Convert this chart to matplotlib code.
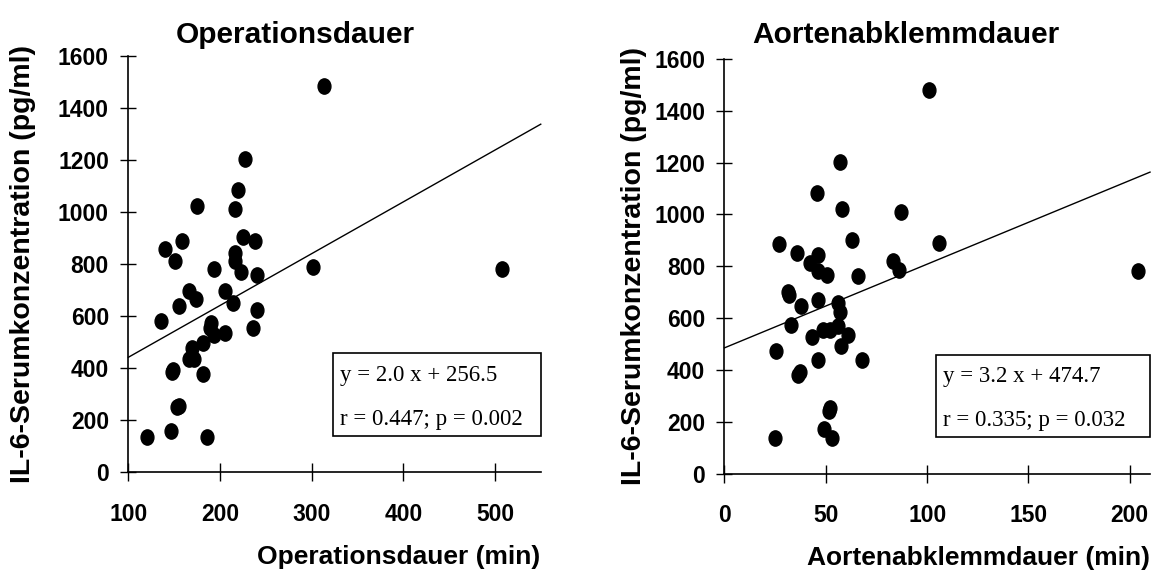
import numpy as np
import matplotlib
matplotlib.use('Agg')
import matplotlib.pyplot as plt
from matplotlib.path import Path
from matplotlib.transforms import Affine2D
from matplotlib.patches import Rectangle

## data: (duration in min, IL-6 in pg/ml)
op_dauer = [314, 227, 220, 175, 216, 159, 140, 225, 238, 216, 151, 216, 194, 302,
            223, 240, 508, 166, 205, 174, 214, 155, 240, 136, 190, 189, 194, 206,
            236, 181, 170, 166, 172, 148, 149, 181, 153, 155, 147, 120, 186]
op_il6 = [1483, 1204, 1086, 1023, 1013, 888, 860, 905, 888, 843, 814, 812, 782, 789,
          770, 759, 780, 697, 697, 667, 650, 641, 625, 582, 575, 554, 529, 536,
          554, 498, 477, 435, 435, 386, 392, 380, 250, 257, 161, 137, 137]

ak_dauer = [101, 57, 45.5, 58, 87, 63, 27, 106, 36, 46, 42, 83, 46, 50.5, 66, 86,
            204, 31.5, 32, 38, 46, 56, 57, 33, 43, 48.5, 52, 56, 61, 57.5, 25.6,
            46, 68, 36.5, 37.5, 52, 51.4, 49, 25, 53]
ak_il6 = [1479, 1201, 1082, 1019, 1010, 900, 884, 891, 852, 843, 813, 822, 782, 765,
          763, 786, 782, 699, 688, 646, 669, 657, 622, 575, 528, 552, 552, 568, 535,
          494, 472, 439, 439, 380, 392, 253, 243, 170, 137, 137]

# trend lines (slope, intercept) as drawn
op_fit = (1.99, 243.5)
ak_fit = (3.23, 485.0)

op_text = ['y = 2.0 x + 256.5', 'r = 0.447; p = 0.002']
ak_text = ['y = 3.2 x + 474.7', 'r = 0.335; p = 0.032']

yticks = [0, 200, 400, 600, 800, 1000, 1200, 1400, 1600]
op_xticks = [100, 200, 300, 400, 500]
ak_xticks = [0, 50, 100, 150, 200]

sans = 'Liberation Sans'
serif = 'Liberation Serif'

# slightly upright ellipse marker
ell = Path.unit_circle().transformed(Affine2D().scale(0.84, 1.0))

fig = plt.figure(figsize=(11.52, 5.72), dpi=100)

def panel(rect, xs, ys, xlim, xticks, fit, txt, title, title_x, xlabel, ylab_x):
    ax = fig.add_axes(rect)
    ax.set_xlim(*xlim)
    ax.set_ylim(0, 1600)
    for s in ['top', 'right']:
        ax.spines[s].set_visible(False)
    ax.spines['left'].set_linewidth(1.2)
    ax.spines['bottom'].set_linewidth(1.2)
    ax.set_xticks(xticks)
    ax.set_yticks(yticks)
    ax.tick_params(axis='y', direction='inout', length=12, width=1.0, pad=8,
                   labelsize=16.5)
    ax.tick_params(axis='x', direction='inout', length=13, width=1.0, pad=15.5,
                   labelsize=16.5)
    for lab in ax.get_xticklabels() + ax.get_yticklabels():
        lab.set_fontfamily(sans)
        lab.set_fontweight('bold')

    ax.plot(xs, ys, linestyle='none', marker=ell, markersize=11,
            color='black', clip_on=False, zorder=3)

    m, b = fit
    ax.plot([xlim[0], xlim[1]], [b + m*xlim[0], b + m*xlim[1]],
            color='black', lw=1.0, clip_on=False)

    ax.add_patch(Rectangle((0.496, 0.087), 0.504, 0.199, transform=ax.transAxes,
                           fill=False, edgecolor='black', lw=1.2, clip_on=False))
    ax.text(0.513, 0.234, txt[0], transform=ax.transAxes, fontsize=16.5,
            family=serif, va='center', ha='left')
    ax.text(0.513, 0.127, txt[1], transform=ax.transAxes, fontsize=16.5,
            family=serif, va='center', ha='left')

    fig.text(title_x, 0.9248, title, fontsize=21.5, family=sans,
             fontweight='bold', ha='center', va='baseline')

    ax.set_xlabel(xlabel, fontsize=19, family=sans, fontweight='bold')
    ax.xaxis.set_label_coords(1.0, -0.174)
    ax.xaxis.label.set_ha('right')
    ax.set_ylabel('IL-6-Serumkonzentration (pg/ml)', fontsize=20.5,
                  family=sans, fontweight='bold')
    ax.yaxis.set_label_coords(ylab_x, 0.5)
    return ax

panel([0.1114, 0.1740, 0.3580, 0.7281], op_dauer, op_il6, (100, 550),
      op_xticks, op_fit, op_text, 'Operationsdauer', 0.256,
      'Operationsdauer (min)', -0.224)
panel([0.6289, 0.1722, 0.3694, 0.7247], ak_dauer, ak_il6, (0, 210),
      ak_xticks, ak_fit, ak_text, 'Aortenabklemmdauer', 0.7863,
      'Aortenabklemmdauer (min)', -0.181)

fig.savefig('out.png', dpi=100)
